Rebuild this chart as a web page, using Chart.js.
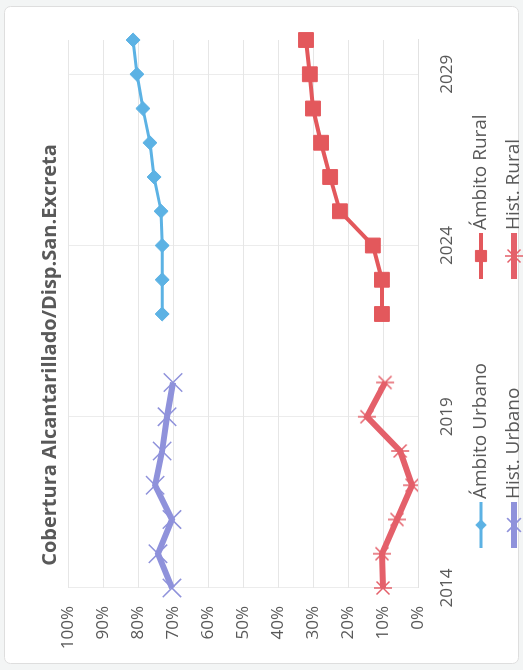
<!DOCTYPE html>
<html>
<head>
<meta charset="utf-8">
<script src="https://cdn.jsdelivr.net/npm/chart.js@4.4.1/dist/chart.umd.min.js"></script>
<style>
  html, body { margin: 0; padding: 0; background: #f3f5f5; }
  body { width: 523px; height: 670px; overflow: hidden; position: relative; }
  /* the chart is laid out landscape and turned a quarter turn counter-clockwise */
  #wrap {
    position: absolute; left: 0; top: 0;
    width: 670px; height: 523px;
    transform-origin: 0 0;
    transform: translate(0, 670px) rotate(-90deg);
  }
</style>
</head>
<body>
<div id="wrap"><canvas id="chart" width="670" height="523"></canvas></div>
<script>
// Years on the category axis
const years = ['2014','2015','2016','2017','2018','2019','2020','2021','2022',
               '2023','2024','2025','2026','2027','2028','2029','2030'];
// Years that carry a tick label
const labeledYears = ['2014','2019','2024','2029'];

// Coverage, percent
const ambitoUrbano = [null,null,null,null,null,null,null,null,73.1,73.1,73.1,73.4,75.4,76.6,78.6,80.3,81.4];
const ambitoRural  = [null,null,null,null,null,null,null,null,10.3,10.3,12.9,22.3,25.1,27.7,30.0,30.9,32.0];
const histUrbano   = [70.3,74.3,70.3,75.1,73.1,71.7,70.0,null,null,null,null,null,null,null,null,null,null];
const histRural    = [10.0,10.3,6.0,1.7,5.1,14.6,9.4,null,null,null,null,null,null,null,null,null,null];

const TEXT = '#595959';
const FONT = '"Open Sans", Lato, sans-serif';

// asterisk marker (X with a vertical bar)
function asteriskMarker(color, size, lw) {
  const c = document.createElement('canvas');
  c.width = size; c.height = size;
  const g = c.getContext('2d');
  g.strokeStyle = color; g.lineWidth = lw;
  const m = size / 2, r = size / 2 - 1, d = r * 0.72;
  g.beginPath();
  g.moveTo(m - d, m - d); g.lineTo(m + d, m + d);
  g.moveTo(m + d, m - d); g.lineTo(m - d, m + d);
  g.moveTo(m, m - r); g.lineTo(m, m + r);
  g.stroke();
  return c;
}

const BLUE = '#5cb2e4', RED = '#e3585c', PURPLE = '#8f92db', RED2 = '#e4606a';

// white chart panel with a thin frame
const panel = {
  id: 'panel',
  beforeDraw(chart) {
    const ctx = chart.ctx;
    ctx.save();
    ctx.fillStyle = '#ffffff';
    ctx.strokeStyle = '#dedede';
    ctx.lineWidth = 1;
    ctx.beginPath();
    ctx.roundRect(6.5, 4.5, 657, 514, 6);
    ctx.fill();
    ctx.stroke();
    ctx.restore();
  }
};

// two-column legend: line with marker, then the series name
const gridLegend = {
  id: 'gridLegend',
  afterDraw(chart) {
    const ctx = chart.ctx;
    const colX = [145, 414];
    const rowY = [481, 514];
    chart.data.datasets.forEach((ds, i) => {
      const cx = colX[i % 2], cy = rowY[Math.floor(i / 2)];
      ctx.save();
      ctx.strokeStyle = ds.borderColor;
      ctx.lineWidth = ds.borderWidth;
      ctx.beginPath();
      ctx.moveTo(cx - 23, cy); ctx.lineTo(cx + 23, cy);
      ctx.stroke();
      ctx.fillStyle = ds.pointBackgroundColor;
      ctx.strokeStyle = ds.pointBorderColor;
      ctx.lineWidth = ds.pointBorderWidth;
      Chart.helpers.drawPoint(ctx, {
        pointStyle: ds.pointStyle, radius: ds.pointRadius * 0.75,
        borderWidth: ds.pointBorderWidth, rotation: 0
      }, cx, cy);
      ctx.fillStyle = TEXT;
      ctx.font = '19px ' + FONT;
      ctx.textAlign = 'left';
      ctx.textBaseline = 'middle';
      ctx.fillText(ds.label, cx + 26, cy);
      ctx.restore();
    });
  }
};

new Chart(document.getElementById('chart'), {
  type: 'line',
  data: {
    labels: years,
    datasets: [
      { label: 'Ámbito Urbano', data: ambitoUrbano, borderColor: BLUE, borderWidth: 3,
        pointStyle: 'rectRot', pointRadius: 7, pointBackgroundColor: BLUE, pointBorderColor: BLUE, pointBorderWidth: 1 },
      { label: 'Ámbito Rural', data: ambitoRural, borderColor: RED, borderWidth: 4,
        pointStyle: 'rect', pointRadius: 10.5, pointBackgroundColor: RED, pointBorderColor: RED, pointBorderWidth: 1 },
      { label: 'Hist. Urbano', data: histUrbano, borderColor: PURPLE, borderWidth: 6,
        pointStyle: 'crossRot', pointRadius: 13, pointBackgroundColor: PURPLE, pointBorderColor: PURPLE, pointBorderWidth: 1.5 },
      { label: 'Hist. Rural', data: histRural, borderColor: RED2, borderWidth: 6,
        pointStyle: asteriskMarker(RED2, 20, 1.5), pointRadius: 10, pointBackgroundColor: RED2, pointBorderColor: RED2, pointBorderWidth: 1.5 }
    ]
  },
  options: {
    responsive: false,
    animation: false,
    spanGaps: false,
    layout: { padding: { left: 0, right: 40, top: 0, bottom: 55 } },
    plugins: {
      legend: { display: false },
      tooltip: { enabled: false },
      title: {
        display: true,
        text: 'Cobertura Alcantarillado/Disp.San.Excreta',
        color: TEXT,
        font: { family: FONT, size: 20, weight: 'bold', lineHeight: 1.2 },
        padding: { top: 38, bottom: 6 }
      }
    },
    scales: {
      x: {
        offset: false,
        afterFit(scale) { scale.height = 50; },
        grid: {
          drawTicks: false,
          color: (c) => labeledYears.includes(years[c.index]) ? '#ececec' : 'rgba(0,0,0,0)'
        },
        border: { display: true, color: '#e2e2e2' },
        ticks: {
          autoSkip: false, maxRotation: 0, padding: 19,
          color: TEXT, font: { family: FONT, size: 17 },
          callback: (v, i) => labeledYears.includes(years[i]) ? years[i] : ''
        }
      },
      y: {
        min: 0, max: 100,
        afterFit(scale) { scale.width = 82; },
        grid: { drawTicks: false, color: '#e6e6e6' },
        border: { display: false },
        ticks: {
          stepSize: 10, padding: 18,
          color: TEXT, font: { family: FONT, size: 17 },
          callback: (v) => v + '%'
        }
      }
    }
  },
  plugins: [panel, gridLegend]
});
</script>
</body>
</html>
